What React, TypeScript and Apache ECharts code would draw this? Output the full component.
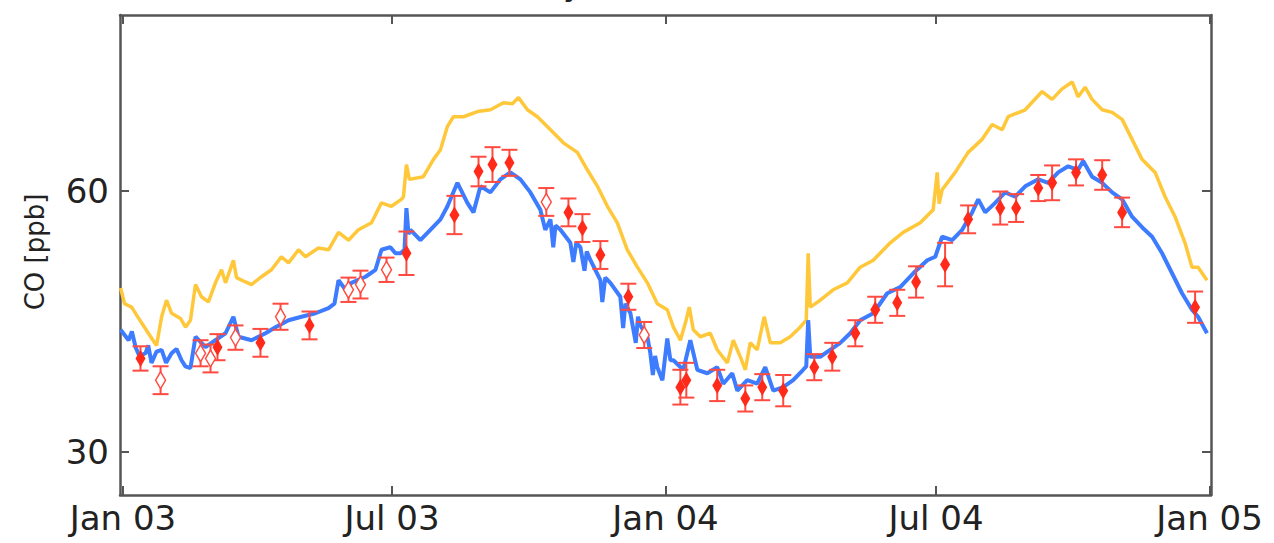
import React, { useEffect, useRef } from 'react';
import * as echarts from 'echarts';

// ---- data: [day since 2003-01-01, CO ppb] ----
const START_DATE = '2003-01-01';
const X_MIN_DATE = '2002-12-30';
const X_MAX_DATE = '2005-01-02';

const xTickDates = ['2003-01-01', '2003-07-01', '2004-01-01', '2004-07-01', '2005-01-01'];
const xTickLabels = ['Jan 03', 'Jul 03', 'Jan 04', 'Jul 04', 'Jan 05'];
const yTicks = [30, 60];
const yAxisTitle = 'CO [ppb]';

const yellowSeries = [
  [-1.6, 48.8], [1.1, 47.0], [5.8, 46.6], [12.5, 44.8], [18.6, 43.2], [22.6, 42.2], [26.0, 45.5],
  [29.3, 47.4], [32.7, 45.9], [38.7, 45.3], [42.1, 44.3], [45.4, 45.1], [48.8, 49.2], [52.8, 47.8],
  [57.5, 47.2], [62.2, 49.4], [66.3, 50.9], [69.0, 49.4], [74.3, 52.0], [76.4, 50.0], [82.4, 49.5],
  [86.5, 49.2], [93.2, 50.1], [99.9, 50.9], [106.6, 52.4], [111.4, 51.7], [118.1, 53.2], [122.8, 52.4],
  [131.5, 53.4], [138.3, 53.2], [145.0, 55.2], [151.7, 54.3], [158.4, 55.5], [167.2, 56.3], [173.9, 58.6],
  [180.6, 58.2], [187.3, 59.0], [188.7, 59.3], [190.7, 63.0], [192.7, 61.3], [202.1, 61.6], [208.9, 63.6],
  [213.6, 64.7], [218.3, 67.4], [222.3, 68.5], [229.1, 68.5], [238.5, 69.1], [247.2, 69.3], [256.0, 70.1],
  [262.0, 70.0], [266.1, 70.7], [272.1, 69.3], [278.8, 68.5], [287.6, 67.0], [296.3, 65.5], [305.7, 64.4],
  [312.4, 62.4], [319.2, 60.5], [325.9, 58.2], [332.6, 56.3], [339.3, 53.2], [346.1, 51.2], [352.8, 49.4],
  [359.5, 47.0], [366.2, 46.3], [370.3, 44.3], [375.0, 42.8], [378.4, 44.8], [381.0, 46.6], [383.7, 44.0],
  [388.4, 43.2], [395.1, 43.6], [399.8, 41.7], [406.6, 40.2], [410.6, 42.8], [415.3, 40.9], [418.7, 39.4],
  [422.0, 42.5], [426.7, 41.7], [431.4, 45.5], [435.5, 42.5], [442.2, 42.5], [448.9, 43.2], [455.6, 44.3],
  [459.7, 45.1], [461.0, 52.8], [462.4, 46.6], [469.1, 47.4], [477.8, 48.6], [487.3, 49.4], [496.0, 51.2],
  [504.8, 52.0], [516.2, 54.0], [524.9, 55.2], [536.4, 56.3], [545.1, 57.8], [547.8, 62.1], [549.1, 58.5],
  [551.1, 60.1], [559.9, 62.1], [568.6, 64.4], [578.0, 65.9], [584.8, 67.6], [591.5, 67.0], [595.5, 68.5],
  [607.0, 69.3], [618.4, 71.4], [625.1, 70.5], [631.8, 71.7], [638.6, 72.5], [642.6, 70.8], [647.3, 71.9],
  [652.0, 70.5], [658.8, 69.3], [665.5, 69.0], [672.2, 68.2], [678.9, 65.9], [685.6, 63.6], [694.4, 62.1],
  [701.1, 59.3], [707.8, 57.0], [714.5, 54.0], [719.2, 51.2], [723.3, 51.2], [729.3, 49.7],
];

const blueSeries = [
  [-1.6, 44.0], [3.8, 42.8], [6.0, 43.8], [8.5, 42.0], [11.0, 41.0], [15.2, 41.3], [17.0, 42.2],
  [19.2, 40.2], [22.6, 41.5], [26.0, 41.7], [29.0, 40.2], [32.7, 41.3], [36.0, 41.8], [39.4, 40.5],
  [42.0, 39.8], [45.4, 39.6], [48.8, 43.2], [55.5, 42.0], [62.2, 42.8], [69.0, 43.6], [74.3, 45.5],
  [77.7, 43.2], [86.5, 42.8], [95.9, 43.6], [102.6, 44.3], [111.4, 45.1], [120.1, 45.5], [129.5, 45.9],
  [138.3, 46.5], [142.3, 47.0], [145.0, 49.7], [149.7, 48.6], [153.7, 49.4], [163.2, 50.1], [169.9, 50.9],
  [173.9, 53.2], [179.9, 53.5], [183.3, 52.8], [186.7, 52.8], [189.4, 53.2], [190.7, 58.0], [192.1, 55.0],
  [193.4, 55.5], [200.1, 54.3], [206.8, 55.5], [213.6, 56.7], [218.3, 58.2], [225.0, 60.9], [231.7, 58.6],
  [235.8, 57.5], [240.5, 60.5], [247.2, 59.8], [253.9, 61.3], [260.6, 62.1], [267.4, 61.3], [274.1, 59.8],
  [280.8, 57.8], [284.1, 55.5], [287.6, 56.7], [289.5, 53.5], [291.0, 56.0], [294.3, 55.5], [301.0, 54.0],
  [303.0, 51.8], [305.0, 54.0], [307.7, 53.5], [310.5, 50.8], [312.0, 53.0], [314.5, 52.0], [321.2, 49.7],
  [322.5, 47.2], [324.5, 50.0], [327.9, 49.4], [334.6, 47.8], [336.5, 44.2], [338.0, 47.0], [341.4, 45.9],
  [345.0, 42.5], [346.5, 45.5], [348.1, 44.5], [352.8, 43.2], [354.8, 41.3], [356.5, 38.8], [358.0, 41.0],
  [359.5, 39.7], [362.9, 38.2], [366.2, 43.0], [368.3, 40.5], [370.3, 40.5], [377.0, 39.4], [381.7, 42.8],
  [386.4, 39.4], [393.1, 39.0], [399.8, 39.7], [403.9, 37.8], [409.9, 39.0], [413.3, 37.0], [420.0, 38.2],
  [426.7, 37.8], [432.1, 39.7], [437.5, 37.0], [444.2, 37.4], [450.9, 38.2], [457.6, 39.4], [459.7, 39.8],
  [461.0, 45.1], [462.4, 40.9], [469.1, 40.9], [475.8, 41.7], [482.6, 42.5], [489.3, 43.6], [496.0, 45.1],
  [504.8, 45.9], [514.2, 48.2], [522.9, 48.9], [531.7, 50.5], [541.1, 52.0], [546.5, 52.4], [551.1, 54.7],
  [557.9, 54.3], [564.6, 55.5], [571.3, 57.5], [575.4, 59.0], [580.1, 57.5], [586.8, 58.6], [593.5, 59.8],
  [600.3, 59.3], [607.0, 60.5], [615.8, 61.3], [622.5, 60.9], [629.2, 62.1], [635.9, 62.8], [642.6, 62.4],
  [646.0, 63.4], [652.0, 61.6], [658.8, 60.9], [665.5, 59.8], [672.2, 59.0], [678.9, 57.0], [685.6, 55.8],
  [692.4, 54.7], [699.1, 52.8], [705.8, 50.5], [712.5, 48.2], [719.2, 46.3], [723.3, 45.5], [729.3, 43.6],
];

// [day, value, error]
const filledObs = [
  [11.8, 40.7, 1.4], [63.6, 42.0, 1.5], [92.5, 42.5, 1.6], [125.5, 44.5, 1.6], [190.7, 52.8, 2.5],
  [223.0, 57.2, 2.2], [239.2, 62.2, 1.7], [248.6, 63.0, 2.0], [260.0, 63.2, 1.5], [299.7, 57.5, 1.6],
  [309.1, 55.7, 1.6], [321.2, 52.6, 1.6], [340.0, 47.8, 1.5], [375.0, 37.4, 2.0], [379.0, 38.2, 2.0],
  [399.8, 37.6, 1.8], [418.7, 36.1, 1.5], [430.1, 37.4, 1.5], [444.2, 37.0, 1.8], [465.1, 39.7, 1.5],
  [477.2, 40.9, 1.6], [492.7, 43.6, 1.5], [506.1, 46.3, 1.5], [520.9, 47.1, 1.5], [533.6, 49.5, 1.8],
  [553.1, 51.5, 2.5], [568.6, 56.7, 1.6], [590.2, 58.0, 1.9], [600.9, 58.0, 1.6], [615.8, 60.3, 1.5],
  [625.1, 60.9, 2.0], [641.2, 62.1, 1.5], [658.8, 61.8, 1.7], [672.2, 57.5, 1.7], [721.3, 46.6, 1.8],
];
const hollowObs = [
  [25.3, 38.2, 1.6], [52.2, 41.3, 1.5], [58.9, 40.7, 1.6], [75.7, 43.1, 1.4], [106.0, 45.5, 1.5],
  [151.7, 48.6, 1.4], [159.8, 49.2, 1.6], [177.3, 50.9, 1.4], [284.8, 58.7, 1.6], [350.7, 43.4, 1.5],
];

// ---- helpers ----
const DAY_MS = 86400000;
const t0 = new Date(START_DATE).getTime();
const toTime = (d: number) => t0 + d * DAY_MS;
const xTickTimes = xTickDates.map((s) => new Date(s).getTime());

const FONT = 'DejaVu Sans';
const AXIS_COLOR = '#555';
const YELLOW = '#FFC83A';
const BLUE = '#3D7BFF';
const RED = '#FF2A1A';
const RED_BAR = '#FF4A40';

export default function App() {
  const ref = useRef<HTMLDivElement>(null);

  useEffect(() => {
    if (!ref.current) return;
    const chart = echarts.init(ref.current, undefined, { renderer: 'svg' });

    const yellowData = yellowSeries.map(([d, v]) => [toTime(d), v]);
    const blueData = blueSeries.map(([d, v]) => [toTime(d), v]);
    const filledData = filledObs.map(([d, v, e]) => [toTime(d), v, e]);
    const hollowData = hollowObs.map(([d, v, e]) => [toTime(d), v, e]);

    const xMin = new Date(X_MIN_DATE).getTime();
    const xMax = new Date(X_MAX_DATE).getTime();

    const fmtX = (v: number) => {
      const i = xTickTimes.findIndex((t) => Math.abs(t - v) < DAY_MS);
      return i >= 0 ? xTickLabels[i] : '';
    };

    const errRender = (params: any, api: any) => {
      const x = api.value(0);
      const v = api.value(1);
      const e = api.value(2);
      const top = api.coord([x, v + e]);
      const bot = api.coord([x, v - e]);
      const cap = 8;
      const style = { stroke: RED_BAR, lineWidth: 2, fill: 'none' };
      return {
        type: 'group',
        children: [
          { type: 'line', shape: { x1: top[0], y1: top[1], x2: bot[0], y2: bot[1] }, style },
          { type: 'line', shape: { x1: top[0] - cap, y1: top[1], x2: top[0] + cap, y2: top[1] }, style },
          { type: 'line', shape: { x1: bot[0] - cap, y1: bot[1], x2: bot[0] + cap, y2: bot[1] }, style },
        ],
      };
    };

    const baseX = {
      type: 'value' as const,
      min: xMin,
      max: xMax,
      splitLine: { show: false },
      axisLine: { show: true, onZero: false, lineStyle: { color: AXIS_COLOR, width: 2.5 } },
      axisTick: { show: true, inside: true, length: 9, customValues: xTickTimes, lineStyle: { color: AXIS_COLOR, width: 2 } },
    };
    const baseY = {
      type: 'value' as const,
      min: 25,
      max: 80.2,
      splitLine: { show: false },
      axisLine: { show: true, onZero: false, lineStyle: { color: AXIS_COLOR, width: 2.5 } },
      axisTick: { show: true, inside: true, length: 9, customValues: yTicks, lineStyle: { color: AXIS_COLOR, width: 2 } },
    };

    chart.setOption({
      animation: false,
      backgroundColor: '#fff',
      grid: { left: 120, right: 63, top: 15, bottom: 48, containLabel: false },
      xAxis: [
        {
          ...baseX,
          position: 'bottom',
          axisLabel: {
            show: true,
            customValues: xTickTimes,
            formatter: fmtX,
            fontFamily: FONT,
            fontSize: 34,
            color: '#222',
            margin: 6,
          },
        },
        { ...baseX, position: 'top', axisLabel: { show: false } },
      ],
      yAxis: [
        {
          ...baseY,
          position: 'left',
          axisLabel: {
            show: true,
            customValues: yTicks,
            fontFamily: FONT,
            fontSize: 34,
            color: '#222',
            margin: 11,
          },
        },
        { ...baseY, position: 'right', axisLabel: { show: false } },
      ],
      graphic: [
        {
          type: 'text',
          x: 35,
          y: 252,
          rotation: Math.PI / 2,
          style: {
            text: yAxisTitle,
            fontFamily: FONT,
            fontSize: 26,
            fill: '#222',
            align: 'center',
            verticalAlign: 'middle',
          },
        },
        {
          type: 'text',
          x: 573,
          y: -17,
          style: {
            text: 'y',
            fontFamily: FONT,
            fontSize: 34,
            fill: '#222',
            align: 'center',
            verticalAlign: 'middle',
          },
        },
      ],
      series: [
        {
          type: 'line',
          data: yellowData,
          showSymbol: false,
          lineStyle: { color: YELLOW, width: 3.5 },
          itemStyle: { color: YELLOW },
          z: 2,
        },
        {
          type: 'line',
          data: blueData,
          showSymbol: false,
          lineStyle: { color: BLUE, width: 4 },
          itemStyle: { color: BLUE },
          z: 3,
        },
        {
          type: 'custom',
          renderItem: errRender,
          data: filledData,
          encode: { x: 0, y: 1 },
          z: 4,
        },
        {
          type: 'custom',
          renderItem: errRender,
          data: hollowData,
          encode: { x: 0, y: 1 },
          z: 4,
        },
        {
          type: 'scatter',
          data: filledData,
          symbol: 'diamond',
          symbolSize: [10, 17],
          itemStyle: { color: RED, opacity: 1 },
          encode: { x: 0, y: 1 },
          z: 5,
        },
        {
          type: 'scatter',
          data: hollowData,
          symbol: 'diamond',
          symbolSize: [10, 17],
          itemStyle: { color: '#fff', borderColor: RED_BAR, borderWidth: 1.5, opacity: 1 },
          encode: { x: 0, y: 1 },
          z: 5,
        },
      ],
    });

    return () => chart.dispose();
  }, []);

  return (
    <div
      ref={ref}
      style={{ position: 'absolute', left: 0, top: 0, width: 1274, height: 543, background: '#fff' }}
    />
  );
}
